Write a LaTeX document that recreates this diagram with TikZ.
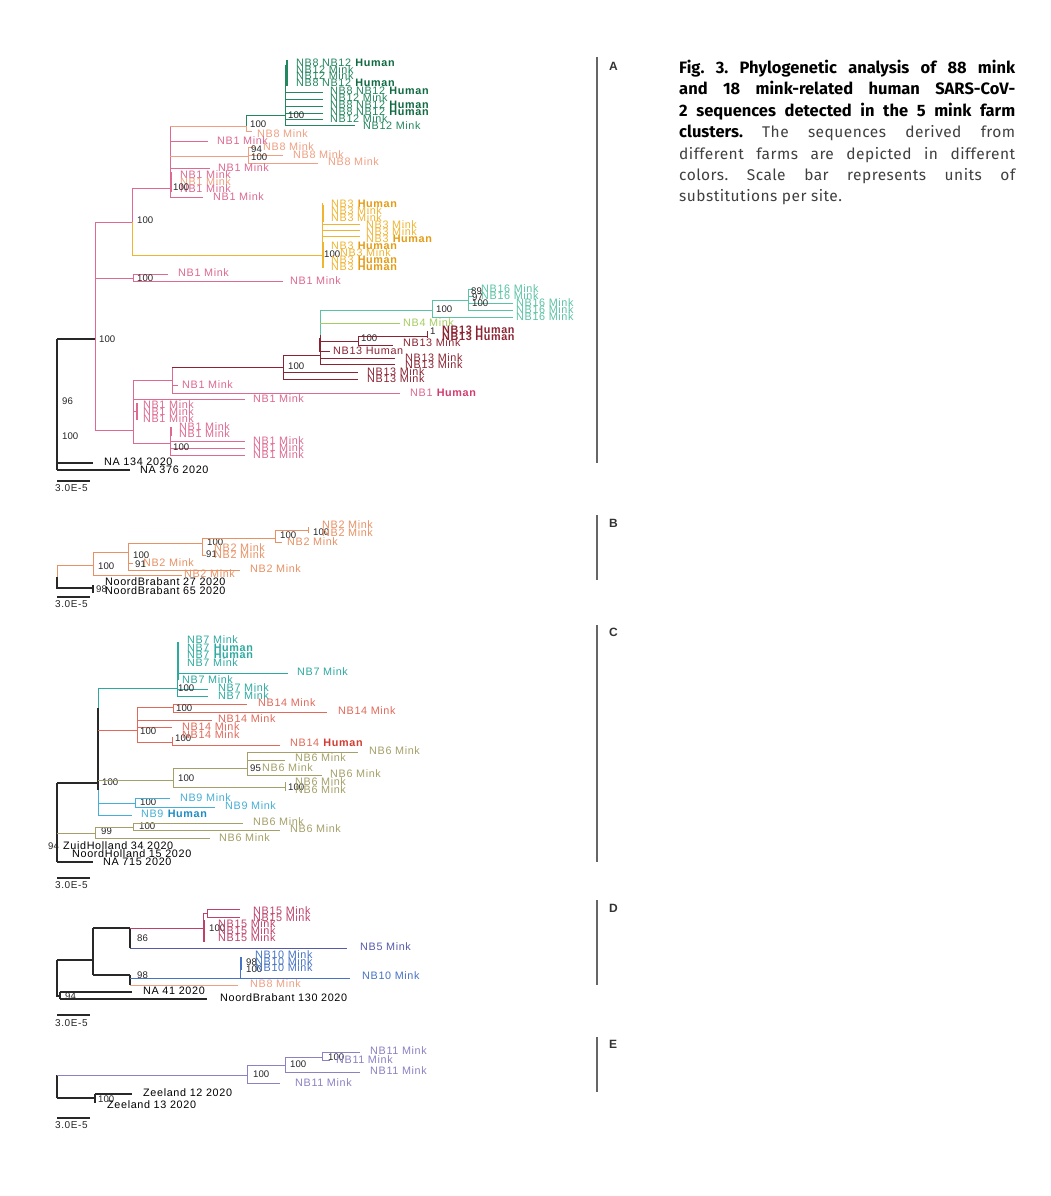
\documentclass[tikz,border=0pt]{standalone}
\usepackage{fontspec}
\setmainfont{Liberation Sans}
\newfontfamily\lblf{Liberation Sans}[LetterSpace=6]
\newfontfamily\capr{Fira Sans}[LetterSpace=3]
\newfontfamily\capb{Fira Sans}
\definecolor{cnb1}{RGB}{222,105,145}
\definecolor{cnb1h}{RGB}{210,60,110}
\definecolor{cnb8}{RGB}{240,160,130}
\definecolor{cnb12}{RGB}{35,135,95}
\definecolor{cnb12h}{RGB}{15,105,65}
\definecolor{cnb3}{RGB}{240,180,50}
\definecolor{cnb3h}{RGB}{228,155,20}
\definecolor{cnb16}{RGB}{90,195,165}
\definecolor{cnb4}{RGB}{165,205,95}
\definecolor{cnb13}{RGB}{140,35,50}
\definecolor{cnb2}{RGB}{232,145,100}
\definecolor{cnb7}{RGB}{45,170,160}
\definecolor{cnb14}{RGB}{225,105,90}
\definecolor{cnb14h}{RGB}{210,60,50}
\definecolor{cnb6}{RGB}{165,160,105}
\definecolor{cnb9}{RGB}{70,175,215}
\definecolor{cnb9h}{RGB}{30,140,195}
\definecolor{cnb15}{RGB}{190,65,105}
\definecolor{cnb5}{RGB}{85,90,170}
\definecolor{cnb10}{RGB}{70,115,195}
\definecolor{cnb11}{RGB}{140,130,195}
\definecolor{blkc}{RGB}{40,40,40}
\newcounter{lc}
\newcommand\mylab[4]{\stepcounter{lc}\node[lbl,text=#1] (L\thelc) at (#2,#3) {#4};}
\newcommand\bsv[3]{\stepcounter{lc}\node[bsl] (B\thelc) at (#1,#2) {#3};}
\newcommand\hum[1]{\textbf{\color{#1}Human}}
\newcommand\capline[1]{\hbox to 336pt{#1}}
\newcommand\capbold{\capb\bfseries\fontsize{16.5}{21.4}\selectfont\color{black}}
\tikzset{
 lbl/.style={anchor=west,inner sep=0pt,font=\lblf\fontsize{10.8}{10.8}\selectfont},
 bsl/.style={anchor=west,inner sep=0pt,font=\fontsize{9.6}{9.6}\selectfont,text=black!85},
 blk/.style={draw=blkc,line width=1.1pt},
 nb1/.style={draw=cnb1,line width=0.9pt},
 nb8/.style={draw=cnb8,line width=0.9pt},
 nb12/.style={draw=cnb12,line width=0.9pt},
 nb3/.style={draw=cnb3,line width=0.9pt},
 nb16/.style={draw=cnb16,line width=0.9pt},
 nb4/.style={draw=cnb4,line width=0.9pt},
 nb13/.style={draw=cnb13,line width=0.9pt},
 nb2/.style={draw=cnb2,line width=0.9pt},
 nb7/.style={draw=cnb7,line width=0.9pt},
 nb14/.style={draw=cnb14,line width=0.9pt},
 nb6/.style={draw=cnb6,line width=0.9pt},
 nb9/.style={draw=cnb9,line width=0.9pt},
 nb15/.style={draw=cnb15,line width=0.9pt},
 nb5/.style={draw=cnb5,line width=0.9pt},
 nb10/.style={draw=cnb10,line width=0.9pt},
 nb11/.style={draw=cnb11,line width=0.9pt},
 pbar/.style={draw=black!60,line width=1.8pt},
 plet/.style={anchor=west,inner sep=0pt,font=\bfseries\fontsize{12}{12}\selectfont,text=black!80},
 sclab/.style={anchor=west,inner sep=0pt,font=\lblf\fontsize{10}{10}\selectfont,text=black!85},
}
\begin{document}
\begin{tikzpicture}[x=1pt,y=-1pt]
\fill[white] (0,0) rectangle (1050,1196);
\useasboundingbox (0,0) rectangle (1050,1196);

% ================= PANEL A =================
\draw[blk] (57,339) -- (57,470);
\draw[blk,line width=2pt] (57,398) -- (57,440);
\draw[blk] (57,339) -- (95,339);
\draw[blk] (57,463) -- (93,463);
\draw[blk] (57,470) -- (130,470);
\bsv{62}{401}{96}
\bsv{62}{436}{100}
\bsv{99}{339}{100}
\mylab{black}{104}{462}{NA 134 2020}
\mylab{black}{140}{470}{NA 376 2020}
\draw[blk] (57,481) -- (90,481);
\node[sclab] (scA) at (55,488) {3.0E-5};
% pink trunk
\draw[nb1] (95,222) -- (95,430);
\draw[nb1] (95,222) -- (132,222);
\draw[nb1] (95,278) -- (133,278);
\draw[nb1] (95,430) -- (133,430);
% T node
\draw[nb1] (132,188) -- (132,222);
\draw[nb3] (132,222) -- (132,255) -- (322,255);
\draw[nb1] (132,188) -- (170,188);
\bsv{137}{220}{100}
% U node
\draw[nb1] (170,126) -- (170,197);
\draw[nb1,line width=2pt] (171,172) -- (171,192);
\draw[nb8] (170,126) -- (246,126);
\draw[nb12] (246,115) -- (246,126);
\draw[nb8] (246,126) -- (246,131) -- (252,131);
\draw[nb12] (246,115) -- (285,115);
\bsv{250}{124}{100}
\mylab{cnb8}{257}{134}{NB8 Mink}
\draw[nb1] (170,141) -- (208,141);
\mylab{cnb1}{217}{141}{NB1 Mink}
\draw[nb8] (170,156) -- (248,156);
\draw[nb8] (248,147) -- (248,163);
\draw[nb8] (248,147) -- (255,147);
\draw[nb8] (248,155) -- (283,155);
\draw[nb8] (248,163) -- (318,163);
\bsv{251}{149}{94}
\bsv{251}{157}{100}
\mylab{cnb8}{263}{147}{NB8 Mink}
\mylab{cnb8}{293}{155}{NB8 Mink}
\mylab{cnb8}{328}{162}{NB8 Mink}
\draw[nb1] (170,168) -- (210,168);
\mylab{cnb1}{218}{168}{NB1 Mink}
\mylab{cnb1}{180}{175}{NB1 Mink}
\mylab{cnb8}{180}{182}{NB1 Mink}
\mylab{cnb1}{180}{189}{NB1 Mink}
\bsv{173}{187}{100}
\draw[nb1] (170,197) -- (203,197);
\mylab{cnb1}{213}{197}{NB1 Mink}
% NB12 clade
\draw[nb12] (285,65) -- (285,125);
\draw[nb12,line width=1.8pt] (287,60) -- (287,86);
\foreach \yy in {92,99,106,113,119} \draw[nb12] (285,\yy) -- (323,\yy);
\draw[nb12] (285,125) -- (355,125);
\bsv{288}{115}{100}
\mylab{cnb12}{296}{63}{NB8 NB12 \hum{cnb12h}}
\mylab{cnb12}{296}{70}{NB12 Mink}
\mylab{cnb12}{296}{76}{NB12 Mink}
\mylab{cnb12}{296}{83}{NB8 NB12 \hum{cnb12h}}
\mylab{cnb12}{330}{91}{NB8 NB12 \hum{cnb12h}}
\mylab{cnb12}{330}{98}{NB12 Mink}
\mylab{cnb12}{330}{105}{NB8 NB12 \hum{cnb12h}}
\mylab{cnb12}{330}{112}{NB8 NB12 \hum{cnb12h}}
\mylab{cnb12}{330}{119}{NB12 Mink}
\mylab{cnb12}{363}{126}{NB12 Mink}
% NB3 clade
\draw[nb3] (322,203) -- (322,268);
\draw[nb3,line width=1.6pt] (323,205) -- (323,222);
\draw[nb3,line width=1.6pt] (323,242) -- (323,268);
\foreach \yy in {224,230,236} \draw[nb3] (322,\yy) -- (360,\yy);
\bsv{324}{254}{100}
\mylab{cnb3}{331}{204}{NB3 \hum{cnb3h}}
\mylab{cnb3}{331}{211}{NB3 Mink}
\mylab{cnb3}{331}{218}{NB3 Mink}
\mylab{cnb3}{366}{225}{NB3 Mink}
\mylab{cnb3}{366}{232}{NB3 Mink}
\mylab{cnb3}{366}{239}{NB3 \hum{cnb3h}}
\mylab{cnb3}{331}{246}{NB3 \hum{cnb3h}}
\mylab{cnb3}{340}{253}{NB3 Mink}
\mylab{cnb3}{331}{260}{NB3 \hum{cnb3h}}
\mylab{cnb3}{331}{267}{NB3 \hum{cnb3h}}
% W node
\draw[nb1] (133,274) -- (133,281);
\draw[nb1] (133,274) -- (168,274);
\draw[nb1] (133,281) -- (283,281);
\bsv{137}{278}{100}
\mylab{cnb1}{178}{273}{NB1 Mink}
\mylab{cnb1}{290}{281}{NB1 Mink}
% Q node (lower)
\draw[nb1] (133,380) -- (133,443);
\draw[nb1] (133,380) -- (172,380);
\draw[nb1] (172,367) -- (172,393);
\draw[nb13] (172,367) -- (283,367);
\draw[nb1] (172,385) -- (178,385);
\draw[nb1] (172,393) -- (400,393);
\mylab{cnb1}{182}{385}{NB1 Mink}
\mylab{cnb1}{410}{393}{NB1 \hum{cnb1h}}
\draw[nb1] (133,399) -- (245,399);
\mylab{cnb1}{253}{399}{NB1 Mink}
\draw[nb1,line width=1.6pt] (137,403) -- (137,420);
\draw[nb1] (133,411) -- (137,411);
\mylab{cnb1}{143}{405}{NB1 Mink}
\mylab{cnb1}{143}{412}{NB1 Mink}
\mylab{cnb1}{143}{419}{NB1 Mink}
\draw[nb1] (133,443) -- (170,443);
\draw[nb1] (170,427) -- (170,456);
\draw[nb1,line width=1.6pt] (171,427) -- (171,436);
\foreach \yy in {441,448,455} \draw[nb1] (170,\yy) -- (245,\yy);
\bsv{173}{447}{100}
\mylab{cnb1}{179}{427}{NB1 Mink}
\mylab{cnb1}{179}{434}{NB1 Mink}
\mylab{cnb1}{253}{441}{NB1 Mink}
\mylab{cnb1}{253}{448}{NB1 Mink}
\mylab{cnb1}{253}{455}{NB1 Mink}
% dark red node 283
\draw[nb13] (283,355) -- (283,379);
\draw[nb13] (283,355) -- (320,355);
\draw[nb13] (283,372) -- (358,372);
\draw[nb13] (283,379) -- (358,379);
\bsv{288}{366}{100}
\mylab{cnb13}{367}{372}{NB13 Mink}
\mylab{cnb13}{367}{379}{NB13 Mink}
% node 320
\draw[nb16] (320,310) -- (320,335);
\draw[nb13] (320,335) -- (320,365);
\draw[nb13,line width=2pt] (320,338) -- (320,352);
\draw[nb16] (320,310) -- (432,310);
\draw[nb4] (320,323) -- (400,323);
\mylab{cnb4}{403}{323}{NB4 Mink}
\draw[nb16] (432,300) -- (432,317);
\bsv{436}{309}{100}
\draw[nb16] (432,300) -- (468,300);
\draw[nb16] (432,317) -- (513,317);
\draw[nb16] (468,289) -- (468,310);
\draw[nb16] (468,289) -- (474,289);
\draw[nb16] (468,296) -- (474,296);
\draw[nb16] (468,303) -- (513,303);
\draw[nb16] (468,310) -- (513,310);
\bsv{471}{291}{89}
\bsv{472}{297}{97}
\bsv{472}{303}{100}
\mylab{cnb16}{481}{289}{NB16 Mink}
\mylab{cnb16}{481}{296}{NB16 Mink}
\mylab{cnb16}{516}{303}{NB16 Mink}
\mylab{cnb16}{516}{310}{NB16 Mink}
\mylab{cnb16}{516}{317}{NB16 Mink}
\draw[nb13] (320,341) -- (358,341);
\draw[nb13] (358,336) -- (358,345);
\bsv{361}{338}{100}
\draw[nb13] (358,336) -- (427,336);
\draw[nb13] (427,331) -- (427,338);
\bsv{430}{331}{1}
\mylab{cnb13}{442}{330}{\textbf{NB13 Human}}
\mylab{cnb13}{442}{337}{\textbf{NB13 Human}}
\draw[nb13] (358,345) -- (393,345);
\mylab{cnb13}{403}{343}{NB13 Mink}
\draw[nb13] (320,351) -- (330,351);
\mylab{cnb13}{333}{351}{NB13 Human}
\draw[nb13] (320,358) -- (395,358);
\draw[nb13] (320,364) -- (395,364);
\mylab{cnb13}{405}{358}{NB13 Mink}
\mylab{cnb13}{405}{365}{NB13 Mink}

% ================= PANEL B =================
\draw[blk] (57,577) -- (57,588) -- (93,588);
\draw[blk] (93,585) -- (93,593);
\bsv{96}{589}{98}
\mylab{black}{105}{582}{NoordBrabant 27 2020}
\mylab{black}{105}{591}{NoordBrabant 65 2020}
\draw[nb2] (57,577) -- (57,565) -- (93,565);
\draw[nb2] (93,552) -- (93,575);
\bsv{98}{566}{100}
\draw[nb2] (93,575) -- (182,575);
\mylab{cnb2}{184}{574}{NB2 Mink}
\draw[nb2] (93,552) -- (128,552);
\draw[nb2] (128,543) -- (128,570);
\bsv{133}{555}{100}
\draw[nb2] (128,543) -- (202,543);
\draw[nb2] (128,563) -- (133,563);
\bsv{135}{564}{91}
\mylab{cnb2}{143}{563}{NB2 Mink}
\draw[nb2] (128,570) -- (240,570);
\mylab{cnb2}{250}{569}{NB2 Mink}
\draw[nb2] (202,538) -- (202,555);
\bsv{207}{542}{100}
\draw[nb2] (202,538) -- (275,538);
\draw[nb2] (202,555) -- (206,555);
\bsv{206}{554}{91}
\mylab{cnb2}{214}{548}{NB2 Mink}
\mylab{cnb2}{214}{555}{NB2 Mink}
\draw[nb2] (275,530) -- (275,542);
\bsv{280}{535}{100}
\draw[nb2] (275,530) -- (308,530);
\draw[nb2] (275,542) -- (282,542);
\mylab{cnb2}{287}{542}{NB2 Mink}
\draw[nb2] (308,527) -- (308,533);
\bsv{313}{532}{100}
\mylab{cnb2}{322}{525}{NB2 Mink}
\mylab{cnb2}{322}{533}{NB2 Mink}
\draw[blk] (57,597) -- (90,597);
\node[sclab] (scB) at (55,604) {3.0E-5};

% ================= PANEL C =================
\draw[blk] (57,783) -- (57,862);
\draw[blk,line width=2pt] (57,838) -- (57,856);
\draw[blk] (57,783) -- (98,783);
\draw[blk] (57,862) -- (93,862);
\bsv{48}{846}{94}
\mylab{black}{63}{846}{ZuidHolland 34 2020}
\mylab{black}{72}{854}{NoordHolland 15 2020}
\mylab{black}{103}{862}{NA 715 2020}
\draw[nb6] (57,833) -- (95,833);
\draw[nb6] (95,827) -- (95,838);
\bsv{101}{831}{99}
\draw[nb6] (95,827) -- (133,827);
\draw[nb6] (133,823) -- (133,830);
\bsv{139}{826}{100}
\draw[nb6] (133,823) -- (243,823);
\draw[nb6] (133,830) -- (280,830);
\mylab{cnb6}{253}{822}{NB6 Mink}
\mylab{cnb6}{290}{829}{NB6 Mink}
\draw[nb6] (95,838) -- (210,838);
\mylab{cnb6}{219}{838}{NB6 Mink}
% trunk
\draw[nb7] (98,688) -- (98,708);
\draw[nb9] (98,790) -- (98,815);
\draw[blk,line width=2pt] (98,708) -- (98,790);
\bsv{102}{782}{100}
% NB7
\draw[nb7] (98,688) -- (177,688);
\draw[nb7] (177,642) -- (177,697);
\draw[nb7,line width=1.8pt] (178,642) -- (178,680);
\draw[nb7] (177,673) -- (288,673);
\draw[nb7] (177,689) -- (208,689);
\draw[nb7] (177,696) -- (208,696);
\bsv{178}{688}{100}
\mylab{cnb7}{187}{640}{NB7 Mink}
\mylab{cnb7}{187}{648}{NB7 \hum{cnb7}}
\mylab{cnb7}{187}{655}{NB7 \hum{cnb7}}
\mylab{cnb7}{187}{663}{NB7 Mink}
\mylab{cnb7}{297}{672}{NB7 Mink}
\mylab{cnb7}{182}{680}{NB7 Mink}
\mylab{cnb7}{218}{688}{NB7 Mink}
\mylab{cnb7}{218}{696}{NB7 Mink}
% NB14
\draw[nb14] (98,730) -- (137,730);
\draw[nb14] (137,707) -- (137,742);
\draw[nb14] (137,707) -- (173,707);
\draw[nb14] (173,704) -- (173,712);
\draw[nb14] (173,704) -- (247,704);
\draw[nb14] (173,712) -- (327,712);
\bsv{176}{708}{100}
\draw[nb14] (137,720) -- (212,720);
\draw[nb14] (137,727) -- (172,727);
\draw[nb14] (137,742) -- (172,742);
\draw[nb14] (172,737) -- (172,745);
\draw[nb14] (172,745) -- (280,745);
\bsv{140}{731}{100}
\bsv{175}{738}{100}
\mylab{cnb14}{258}{703}{NB14 Mink}
\mylab{cnb14}{338}{711}{NB14 Mink}
\mylab{cnb14}{218}{719}{NB14 Mink}
\mylab{cnb14}{182}{727}{NB14 Mink}
\mylab{cnb14}{182}{735}{NB14 Mink}
\mylab{cnb14}{290}{743}{NB14 \hum{cnb14h}}
% NB6 upper
\draw[nb6] (98,780) -- (173,780);
\bsv{178}{778}{100}
\draw[nb6] (173,768) -- (173,787);
\draw[nb6] (173,768) -- (247,768);
\draw[nb6] (247,752) -- (247,775);
\bsv{250}{768}{95}
\draw[nb6] (247,752) -- (358,752);
\draw[nb6] (247,760) -- (285,760);
\draw[nb6] (247,775) -- (322,775);
\mylab{cnb6}{369}{751}{NB6 Mink}
\mylab{cnb6}{295}{758}{NB6 Mink}
\mylab{cnb6}{262}{768}{NB6 Mink}
\mylab{cnb6}{330}{774}{NB6 Mink}
\draw[nb6] (173,787) -- (285,787);
\draw[nb6] (285,782) -- (285,791);
\bsv{288}{787}{100}
\mylab{cnb6}{295}{782}{NB6 Mink}
\mylab{cnb6}{295}{790}{NB6 Mink}
% NB9
\draw[nb9] (98,803) -- (135,803);
\draw[nb9] (135,798) -- (135,807);
\bsv{140}{802}{100}
\draw[nb9] (135,798) -- (170,798);
\draw[nb9] (135,807) -- (215,807);
\mylab{cnb9}{180}{798}{NB9 Mink}
\mylab{cnb9}{225}{806}{NB9 Mink}
\draw[nb9] (98,815) -- (132,815);
\mylab{cnb9}{141}{814}{NB9 \hum{cnb9h}}
\draw[blk] (57,878) -- (90,878);
\node[sclab] (scC) at (55,885) {3.0E-5};

% ================= PANEL D =================
\draw[blk] (57,960) -- (57,996) -- (60,996);
\draw[blk] (57,960) -- (93,960);
\draw[blk] (93,928) -- (93,975);
\draw[blk] (93,928) -- (130,928);
\draw[blk] (130,928) -- (130,948);
\bsv{137}{938}{86}
\draw[nb15] (130,928) -- (203,928);
\draw[nb15] (203,913) -- (203,942);
\draw[nb15,line width=1.6pt] (204,920) -- (204,942);
\bsv{209}{928}{100}
\draw[nb15] (203,913) -- (207,913);
\draw[nb15] (207,909) -- (207,917);
\draw[nb15] (207,909) -- (240,909);
\draw[nb15] (207,917) -- (240,917);
\mylab{cnb15}{253}{911}{NB15 Mink}
\mylab{cnb15}{253}{918}{NB15 Mink}
\mylab{cnb15}{218}{924}{NB15 Mink}
\mylab{cnb15}{218}{931}{NB15 Mink}
\mylab{cnb15}{218}{938}{NB15 Mink}
\draw[nb5] (130,948) -- (347,948);
\mylab{cnb5}{360}{947}{NB5 Mink}
\draw[blk] (93,975) -- (130,975);
\draw[blk] (130,975) -- (130,985);
\bsv{137}{975}{98}
\draw[nb10] (130,978) -- (240,978);
\draw[nb10] (240,957) -- (240,978);
\draw[nb10,line width=1.6pt] (241,957) -- (241,970);
\bsv{246}{962}{98}
\bsv{246}{969}{100}
\mylab{cnb10}{255}{955}{NB10 Mink}
\mylab{cnb10}{255}{962}{NB10 Mink}
\mylab{cnb10}{255}{968}{NB10 Mink}
\draw[nb10] (240,978) -- (350,978);
\mylab{cnb10}{362}{976}{NB10 Mink}
\draw[nb8] (130,985) -- (238,985);
\mylab{cnb8}{250}{984}{NB8 Mink}
\draw[blk] (60,992) -- (60,999);
\draw[blk] (60,992) -- (132,992);
\draw[blk] (60,999) -- (207,999);
\bsv{65}{996}{94}
\mylab{black}{143}{991}{NA 41 2020}
\mylab{black}{220}{998}{NoordBrabant 130 2020}
\draw[blk] (57,1015) -- (90,1015);
\node[sclab] (scD) at (55,1023) {3.0E-5};

% ================= PANEL E =================
\draw[blk] (57,1075) -- (57,1098);
\draw[nb11] (57,1075) -- (247,1075);
\draw[nb11] (247,1065) -- (247,1083);
\bsv{253}{1074}{100}
\draw[nb11] (247,1065) -- (285,1065);
\draw[nb11] (285,1057) -- (285,1072);
\bsv{290}{1064}{100}
\draw[nb11] (285,1057) -- (322,1057);
\draw[nb11] (322,1052) -- (322,1060);
\bsv{328}{1057}{100}
\draw[nb11] (322,1052) -- (360,1052);
\draw[nb11] (322,1060) -- (330,1060);
\mylab{cnb11}{370}{1051}{NB11 Mink}
\mylab{cnb11}{336}{1060}{NB11 Mink}
\draw[nb11] (285,1072) -- (360,1072);
\mylab{cnb11}{370}{1071}{NB11 Mink}
\draw[nb11] (247,1083) -- (280,1083);
\mylab{cnb11}{295}{1083}{NB11 Mink}
\draw[blk] (57,1098) -- (95,1098);
\draw[blk] (95,1094) -- (95,1103);
\bsv{98}{1099}{100}
\draw[blk] (95,1094) -- (132,1094);
\mylab{black}{143}{1093}{Zeeland 12 2020}
\mylab{black}{107}{1105}{Zeeland 13 2020}
\draw[blk] (57,1118) -- (90,1118);
\node[sclab] (scE) at (55,1125) {3.0E-5};

% ================= PANEL BARS =================
\draw[pbar] (597,57) -- (597,463);
\draw[pbar] (597,515) -- (597,580);
\draw[pbar] (597,625) -- (597,862);
\draw[pbar] (597,900) -- (597,985);
\draw[pbar] (597,1037) -- (597,1092);
\node[plet] (pA) at (609,66) {A};
\node[plet] (pB) at (609,523) {B};
\node[plet] (pC) at (609,632) {C};
\node[plet] (pD) at (609,908) {D};
\node[plet] (pE) at (609,1044) {E};

% ================= CAPTION =================
\node[anchor=north west,inner sep=0pt,align=left,
  font=\capr\fontsize{15.5}{21.4}\selectfont\frenchspacing,text=black!75] (cap) at (679,60)
 {\capline{\capbold Fig. 3. Phylogenetic analysis of 88 mink}\\
  \capline{\capbold and 18 mink-related human SARS-CoV-}\\
  \capline{\capbold 2 sequences detected in the 5 mink farm}\\
  \capline{{\capbold clusters.} The sequences derived from}\\
  \capline{different farms are depicted in different}\\
  \capline{colors. Scale bar represents units of}\\
  substitutions per site.};
\end{tikzpicture}
\end{document}
